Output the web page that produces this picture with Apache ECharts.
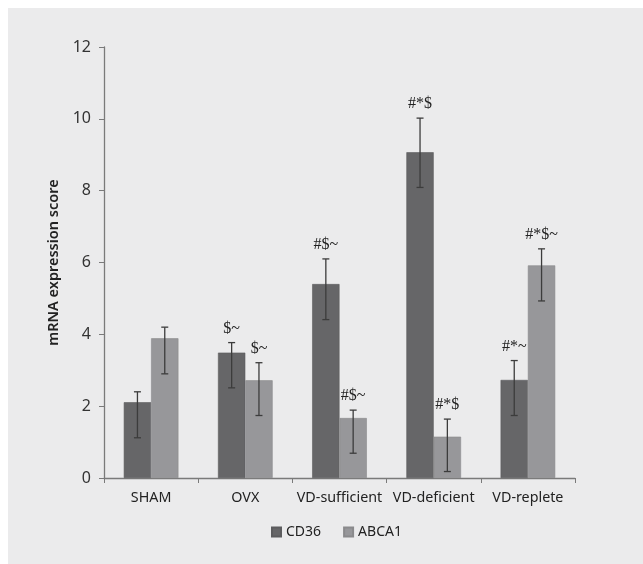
<!DOCTYPE html>
<html>
<head>
<meta charset="utf-8">
<script src="https://cdn.jsdelivr.net/npm/echarts@6/dist/echarts.min.js"></script>
<style>
    html, body {
        margin: 0;
        padding: 0;
        background: #ffffff;
    }
    .panel {
        position: absolute;
        left: 8px;
        top: 8px;
        width: 635px;
        height: 556px;
        background: #ebebec;
    }
    #chart {
        position: absolute;
        left: 0;
        top: 0;
        width: 643px;
        height: 564px;
    }
</style>
</head>
<body>
<div class="panel"></div>
<div id="chart"></div>
<script>
// values
const categories = ['SHAM', 'OVX', 'VD-sufficient', 'VD-deficient', 'VD-replete']
const cd36 = [2.11, 3.49, 5.40, 9.07, 2.73]
const cd36Low = [1.12, 2.51, 4.41, 8.09, 1.74]
const cd36High = [2.40, 3.77, 6.10, 10.02, 3.27]
const cd36Marks = ['', '$~', '#$~', '#*$', '#*~']
const abca1 = [3.89, 2.72, 1.67, 1.15, 5.92]
const abca1Low = [2.90, 1.74, 0.69, 0.18, 4.93]
const abca1High = [4.20, 3.21, 1.89, 1.64, 6.38]
const abca1Marks = ['', '$~', '#$~', '#*$', '#*$~']
const yTicks = [0, 2, 4, 6, 8, 10, 12]

const barFrac = 0.29

const myChart = echarts.init(document.getElementById('chart'))

// error bar + significance marks, drawn at the centre of one bar of the pair
const errorRenderer = (marks, side) => {
    return function (params, api) {
        const i = api.value(0)
        const bw = api.size([1, 0])[0] * barFrac
        const lo = api.coord([i, api.value(1)])
        const hi = api.coord([i, api.value(2)])
        const x = lo[0] + side * bw / 2
        const cap = 3.5
        const style = { stroke: '#3c3c3c', lineWidth: 1.3 }
        return {
            type: 'group',
            children: [
                { type: 'line', shape: { x1: x, y1: lo[1], x2: x, y2: hi[1] }, style: style },
                { type: 'line', shape: { x1: x - cap, y1: lo[1], x2: x + cap, y2: lo[1] }, style: style },
                { type: 'line', shape: { x1: x - cap, y1: hi[1], x2: x + cap, y2: hi[1] }, style: style },
                {
                    type: 'text',
                    style: {
                        x: x,
                        y: hi[1] - 6,
                        text: marks[params.dataIndex],
                        align: 'center',
                        verticalAlign: 'bottom',
                        fill: '#222',
                        font: '16px "Liberation Serif", "DejaVu Serif", serif'
                    }
                }
            ]
        }
    }
}

myChart.setOption({
    animation: false,
    textStyle: { fontFamily: '"Noto Sans", "Open Sans", sans-serif' },
    grid: {
        left: 104,
        right: 68,
        top: 47,
        bottom: 86
    },
    legend: {
        data: ['CD36', 'ABCA1'],
        left: 266,
        top: 520,
        icon: 'rect',
        itemWidth: 9,
        itemHeight: 9,
        itemGap: 22,
        textStyle: { color: '#222', fontSize: 14 }
    },
    xAxis: {
        type: 'category',
        data: categories,
        axisLine: { lineStyle: { color: '#7a7a7a', width: 1.3 } },
        axisTick: { show: true, length: 5, lineStyle: { color: '#7a7a7a' } },
        axisLabel: { color: '#222', fontSize: 14.3, margin: 13, interval: 0 },
        splitLine: { show: false }
    },
    yAxis: {
        type: 'value',
        min: yTicks[0],
        max: yTicks[yTicks.length - 1],
        interval: 2,
        name: 'mRNA expression score',
        nameLocation: 'middle',
        nameGap: 43,
        nameTextStyle: { color: '#222', fontSize: 14.5, fontWeight: 600 },
        axisLine: { show: true, lineStyle: { color: '#7a7a7a', width: 1.3 } },
        axisTick: { show: true, length: 5, lineStyle: { color: '#7a7a7a' } },
        axisLabel: { color: '#333', fontSize: 16, margin: 13 },
        splitLine: { show: false }
    },
    series: [{
        name: 'CD36',
        type: 'bar',
        data: cd36,
        barWidth: (barFrac * 100) + '%',
        barGap: '0%',
        itemStyle: { color: '#666668', borderColor: '#5c5c5e', borderWidth: 0.6 }
    }, {
        name: 'ABCA1',
        type: 'bar',
        data: abca1,
        barWidth: (barFrac * 100) + '%',
        barGap: '0%',
        itemStyle: { color: '#97979a', borderColor: '#8a8a8c', borderWidth: 0.6 }
    }, {
        type: 'custom',
        renderItem: errorRenderer(cd36Marks, -1),
        encode: { x: 0, y: [1, 2] },
        data: categories.map((c, i) => [i, cd36Low[i], cd36High[i]]),
        z: 5
    }, {
        type: 'custom',
        renderItem: errorRenderer(abca1Marks, 1),
        encode: { x: 0, y: [1, 2] },
        data: categories.map((c, i) => [i, abca1Low[i], abca1High[i]]),
        z: 5
    }]
})
</script>
</body>
</html>
